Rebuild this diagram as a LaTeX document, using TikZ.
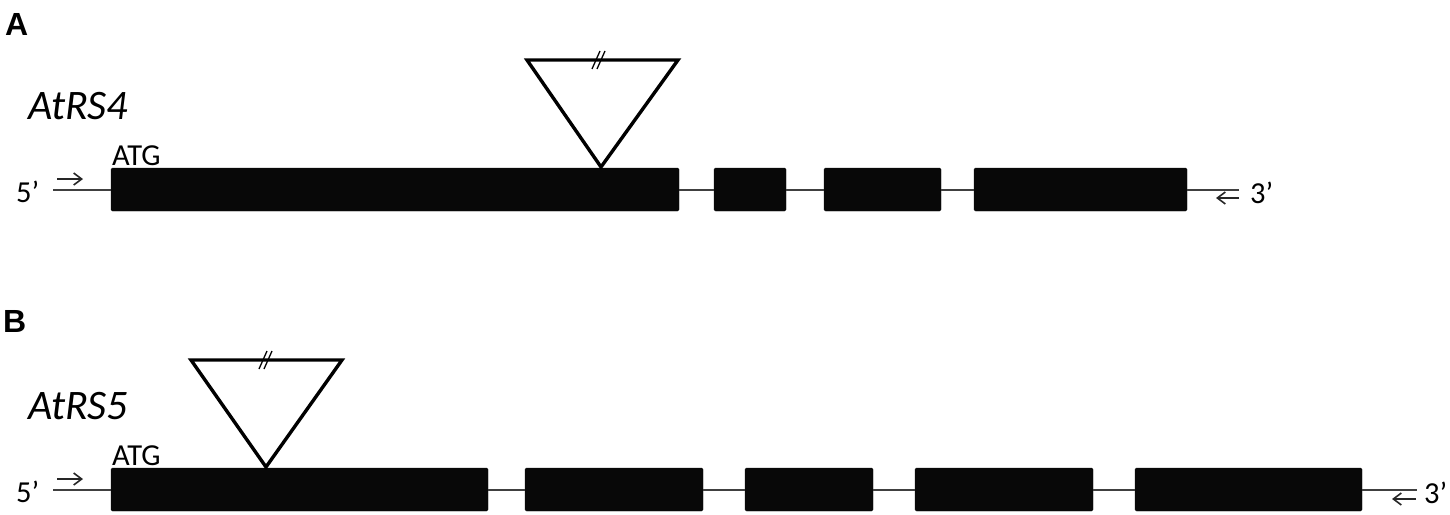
\documentclass[tikz,border=0pt]{standalone}
\usepackage{fontspec}
\setmainfont{Carlito}
\newfontfamily\panelfont{Liberation Sans}
\usetikzlibrary{arrows.meta}

\begin{document}
\begin{tikzpicture}[x=1pt,y=-1pt]
            \tikzstyle{every node}+=[inner sep=0pt]
            \tikzstyle{exon}=[fill=black!97, draw=black!97, rounded corners=1.5pt, minimum height=43pt]
            \tikzstyle{intron}=[line width=2pt, black!75]
            \tikzstyle{insert}=[line width=3.4pt, black, line join=miter]
            \tikzstyle{dirarrow}=[line width=1.6pt, black!85, -{Straight Barb[length=8pt,width=12pt]}]
            \tikzstyle{lbl}=[anchor=base west, font=\fontsize{30.5}{30.5}\selectfont]
            \useasboundingbox (0,0) rectangle (1450,514);
            \node [anchor=base west, font=\panelfont\bfseries\fontsize{32}{32}\selectfont] (panA) at (5,35) {A};
            \node [anchor=base west, font=\itshape\fontsize{42}{42}\selectfont] (nameA) at (28,119) {AtRS4};
            \node [lbl] (atgA) at (112,165) {ATG};
            \node [lbl] (fiveA) at (16,202) {5’};
            \node [lbl] (threeA) at (1250,203) {3’};
            \node [exon, minimum width=568pt] (a1) at (395,189.5) {};
            \node [exon, minimum width=72pt] (a2) at (750,189.5) {};
            \node [exon, minimum width=117pt] (a3) at (882.5,189.5) {};
            \node [exon, minimum width=213pt] (a4) at (1080.5,189.5) {};
            \coordinate (sA) at (53,189.5);
            \coordinate (eA) at (1239,189.5);
            \draw [intron] (sA) -- (a1.west);
            \draw [intron] (a1.east) -- (a2.west);
            \draw [intron] (a2.east) -- (a3.west);
            \draw [intron] (a3.east) -- (a4.west);
            \draw [intron] (a4.east) -- (eA);
            \coordinate (fA1) at (57,179);
            \coordinate (fA2) at (83,179);
            \coordinate (rA1) at (1239,198);
            \coordinate (rA2) at (1216,198);
            \draw [dirarrow] (fA1) -- (fA2);
            \draw [dirarrow] (rA1) -- (rA2);
            \coordinate (tA1) at (527,60);
            \coordinate (tA2) at (678,60);
            \coordinate (tA3) at (601,167);
            \draw [insert] (tA1) -- (tA2) -- (tA3) -- cycle;
            \draw [line width=1.3pt] (592,69) -- (600,51);
            \draw [line width=1.3pt] (597,69) -- (605,51);
            \node [anchor=base west, font=\panelfont\bfseries\fontsize{32}{32}\selectfont] (panB) at (3,332) {B};
            \node [anchor=base west, font=\itshape\fontsize{42}{42}\selectfont] (nameB) at (28,419) {AtRS5};
            \node [lbl] (atgB) at (112,465) {ATG};
            \node [lbl] (fiveB) at (16,502) {5’};
            \node [lbl] (threeB) at (1424,503) {3’};
            \node [exon, minimum width=377pt] (b1) at (299.5,489.5) {};
            \node [exon, minimum width=178pt] (b2) at (614,489.5) {};
            \node [exon, minimum width=128pt] (b3) at (809,489.5) {};
            \node [exon, minimum width=178pt] (b4) at (1004,489.5) {};
            \node [exon, minimum width=227pt] (b5) at (1248.5,489.5) {};
            \coordinate (sB) at (53,489.5);
            \coordinate (eB) at (1417,489.5);
            \draw [intron] (sB) -- (b1.west);
            \draw [intron] (b1.east) -- (b2.west);
            \draw [intron] (b2.east) -- (b3.west);
            \draw [intron] (b3.east) -- (b4.west);
            \draw [intron] (b4.east) -- (b5.west);
            \draw [intron] (b5.east) -- (eB);
            \coordinate (fB1) at (57,479);
            \coordinate (fB2) at (83,479);
            \coordinate (rB1) at (1416,499);
            \coordinate (rB2) at (1392,499);
            \draw [dirarrow] (fB1) -- (fB2);
            \draw [dirarrow] (rB1) -- (rB2);
            \coordinate (tB1) at (191,360);
            \coordinate (tB2) at (342,360);
            \coordinate (tB3) at (266,467);
            \draw [insert] (tB1) -- (tB2) -- (tB3) -- cycle;
            \draw [line width=1.3pt] (259,369) -- (267,351);
            \draw [line width=1.3pt] (264,369) -- (272,351);
        \end{tikzpicture}
\end{document}
